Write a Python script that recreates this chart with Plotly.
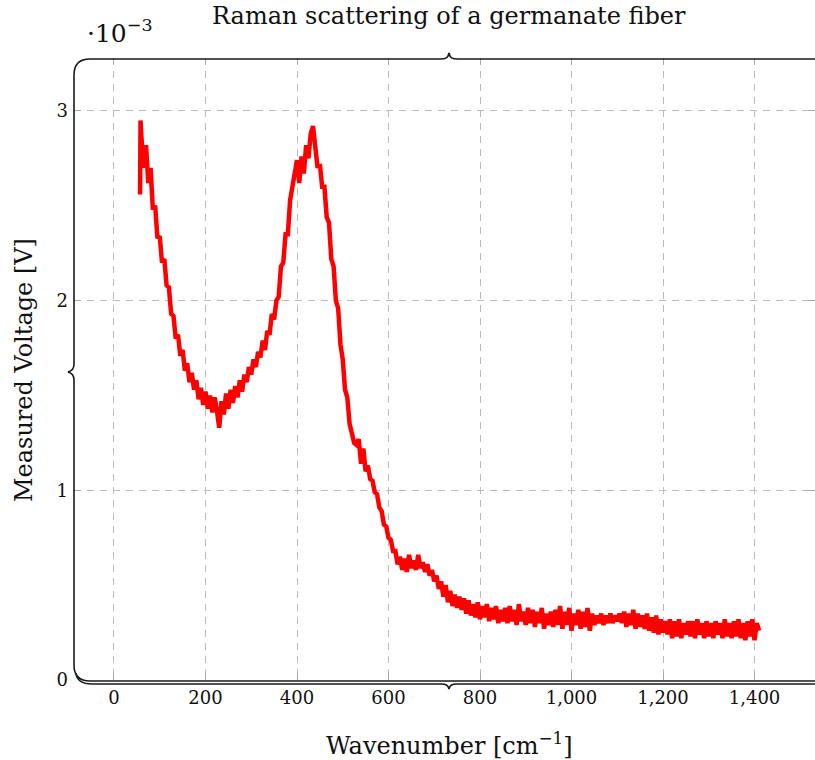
import plotly.graph_objects as go

# ---------------- data ----------------
wavenumber = [57, 58] + list(range(60, 1411, 5))  # cm^-1

# measured voltage in units of 1e-3 V
voltage_mV = [2.56, 2.95,
    2.86, 2.70, 2.82, 2.62, 2.70, 2.48, 2.50, 2.33, 2.34, 2.20,   # 60-105
    2.22, 2.08, 2.07, 1.93, 1.92, 1.80, 1.82, 1.71, 1.74, 1.63,   # 110-155
    1.67, 1.57, 1.62, 1.53, 1.58, 1.48, 1.54, 1.45, 1.52, 1.43,   # 160-205
    1.50, 1.41, 1.49, 1.42, 1.33, 1.47, 1.40, 1.51, 1.43, 1.53,   # 210-255
    1.46, 1.55, 1.49, 1.58, 1.52, 1.61, 1.57, 1.65, 1.61, 1.69,   # 260-305
    1.65, 1.73, 1.70, 1.79, 1.74, 1.84, 1.82, 1.93, 1.90, 2.00,   # 310-355
    2.02, 2.18, 2.20, 2.35, 2.35, 2.53, 2.60, 2.69, 2.74, 2.62,   # 360-405
    2.76, 2.67, 2.82, 2.75, 2.88, 2.92, 2.78, 2.70, 2.72, 2.60,   # 410-455
    2.60, 2.44, 2.41, 2.22, 2.18, 2.00, 1.96, 1.77, 1.69, 1.53,   # 460-505
    1.49, 1.35, 1.30, 1.25, 1.24, 1.27, 1.14, 1.22, 1.10, 1.13,   # 510-555
    1.06, 1.05, 0.99, 0.98, 0.91, 0.89, 0.82, 0.81, 0.75, 0.74,   # 560-605
    0.68, 0.68, 0.61, 0.65, 0.58, 0.64, 0.57, 0.66, 0.59, 0.63,   # 610-655
    0.58, 0.66, 0.59, 0.62, 0.57, 0.61, 0.55, 0.58, 0.52, 0.55,   # 660-705
    0.48, 0.52, 0.44, 0.50, 0.41, 0.47, 0.39, 0.45, 0.38, 0.44,   # 710-755
    0.37, 0.43, 0.35, 0.42, 0.34, 0.40, 0.33, 0.41, 0.32, 0.39,   # 760-805
    0.33, 0.40, 0.31, 0.38, 0.32, 0.39, 0.30, 0.37, 0.31, 0.38,   # 810-855
    0.30, 0.39, 0.31, 0.37, 0.29, 0.40, 0.31, 0.36, 0.29, 0.38,   # 860-905
    0.30, 0.37, 0.28, 0.36, 0.30, 0.38, 0.27, 0.35, 0.29, 0.36,   # 910-955
    0.28, 0.37, 0.29, 0.39, 0.27, 0.36, 0.29, 0.38, 0.26, 0.35,   # 960-1005
    0.29, 0.37, 0.27, 0.36, 0.28, 0.38, 0.26, 0.35, 0.29, 0.34,   # 1010-1055
    0.30, 0.35, 0.29, 0.34, 0.30, 0.35, 0.30, 0.34, 0.31, 0.35,   # 1060-1105
    0.30, 0.36, 0.28, 0.35, 0.29, 0.37, 0.27, 0.35, 0.28, 0.34,   # 1110-1155
    0.27, 0.35, 0.26, 0.33, 0.25, 0.34, 0.24, 0.32, 0.25, 0.31,   # 1160-1205
    0.24, 0.32, 0.22, 0.31, 0.23, 0.32, 0.22, 0.30, 0.24, 0.31,   # 1210-1255
    0.23, 0.31, 0.22, 0.32, 0.24, 0.30, 0.22, 0.31, 0.23, 0.30,   # 1260-1305
    0.22, 0.31, 0.24, 0.30, 0.22, 0.32, 0.23, 0.30, 0.22, 0.31,   # 1310-1355
    0.23, 0.32, 0.22, 0.30, 0.21, 0.31, 0.23, 0.32, 0.21, 0.30,   # 1360-1405
    0.26]                                                         # 1410

x_ticks = [0, 200, 400, 600, 800, 1000, 1200, 1400]
x_tick_labels = ["0", "200", "400", "600", "800", "1,000", "1,200", "1,400"]
y_ticks = [0, 1, 2, 3]
y_tick_labels = ["0", "1", "2", "3"]

title_text = "Raman scattering of a germanate fiber"
x_title = "Wavenumber [cm<sup>−1</sup>]"
y_title = "Measured Voltage [V]"
y_multiplier = "·10<sup>−3</sup>"

# ---------------- layout geometry ----------------
W, H = 815, 760
L, R, T, B = 74, 0, 58, 80
PW, PH = W - L - R, H - T - B
FONT = "DejaVu Serif"


def P(xp, yp):
    return f"{(xp - L) / PW:.5f},{(H - B - yp) / PH:.5f}"


fig = go.Figure()
fig.add_trace(go.Scatter(
    x=wavenumber, y=voltage_mV, mode="lines",
    line=dict(color="#ff0000", width=4.5),
    showlegend=False, hoverinfo="skip"))

grid = dict(showgrid=True, gridcolor="#bcbcbc", gridwidth=1.3, griddash="7px,6px",
            zeroline=False, showline=False, ticks="inside", ticklen=7,
            tickcolor="#a8a8a8", tickwidth=1.3, mirror="ticks", ticklabelstandoff=5,
            tickfont=dict(family=FONT, size=18, color="#111"))

fig.update_xaxes(range=[-87.4, 1532.2], tickvals=x_ticks, ticktext=x_tick_labels, **grid)
fig.update_yaxes(range=[0, 3.279], tickvals=y_ticks, ticktext=y_tick_labels, **grid)

frame_color = "#1a1a1a"
# left brace + top brace + bottom corner line
frame_path = (
    f"M {P(815,681)} L {P(90,681)} Q {P(74,681)} {P(74,665)} "
    f"L {P(74,380)} C {P(74,375)} {P(72,373)} {P(68,372)} "
    f"C {P(72,371)} {P(74,369)} {P(74,364)} "
    f"L {P(74,75)} Q {P(74,59)} {P(90,59)} "
    f"L {P(440,59)} C {P(446,59)} {P(448,58)} {P(449,53)} "
    f"C {P(450,58)} {P(452,59)} {P(458,59)} L {P(815,59)}"
)
bottom_brace = (
    f"M {P(76,673)} Q {P(77,684)} {P(92,684)} "
    f"L {P(441,684)} C {P(446,684)} {P(448,685)} {P(449,689)} "
    f"C {P(450,685)} {P(452,684)} {P(457,684)} L {P(815,684)}"
)
shapes = [
    dict(type="path", xref="paper", yref="paper", path=frame_path,
         line=dict(color=frame_color, width=1.6), fillcolor="rgba(0,0,0,0)", layer="above"),
    dict(type="path", xref="paper", yref="paper", path=bottom_brace,
         line=dict(color=frame_color, width=1.6), fillcolor="rgba(0,0,0,0)", layer="above"),
]


def ax(xp, yp):
    return (xp - L) / PW, (H - B - yp) / PH


annotations = []
tx, ty = ax(449, 16)
annotations.append(dict(text=title_text, x=tx, y=ty, xref="paper", yref="paper",
                        showarrow=False, xanchor="center", yanchor="middle",
                        font=dict(family=FONT, size=24, color="#111")))
tx, ty = ax(449, 744)
annotations.append(dict(text=x_title, x=tx, y=ty, xref="paper", yref="paper",
                        showarrow=False, xanchor="center", yanchor="middle",
                        font=dict(family=FONT, size=24, color="#111")))
tx, ty = ax(24, 370)
annotations.append(dict(text=y_title, x=tx, y=ty, xref="paper", yref="paper",
                        showarrow=False, xanchor="center", yanchor="middle", textangle=-90,
                        font=dict(family=FONT, size=24, color="#111")))
tx, ty = ax(85, 31)
annotations.append(dict(text=y_multiplier, x=tx, y=ty, xref="paper", yref="paper",
                        showarrow=False, xanchor="left", yanchor="middle",
                        font=dict(family=FONT, size=25, color="#111")))

fig.update_layout(
    width=W, height=H,
    margin=dict(l=L, r=R, t=T, b=B),
    paper_bgcolor="white", plot_bgcolor="white",
    shapes=shapes, annotations=annotations,
    font=dict(family=FONT),
)

fig.write_html("out.html")
